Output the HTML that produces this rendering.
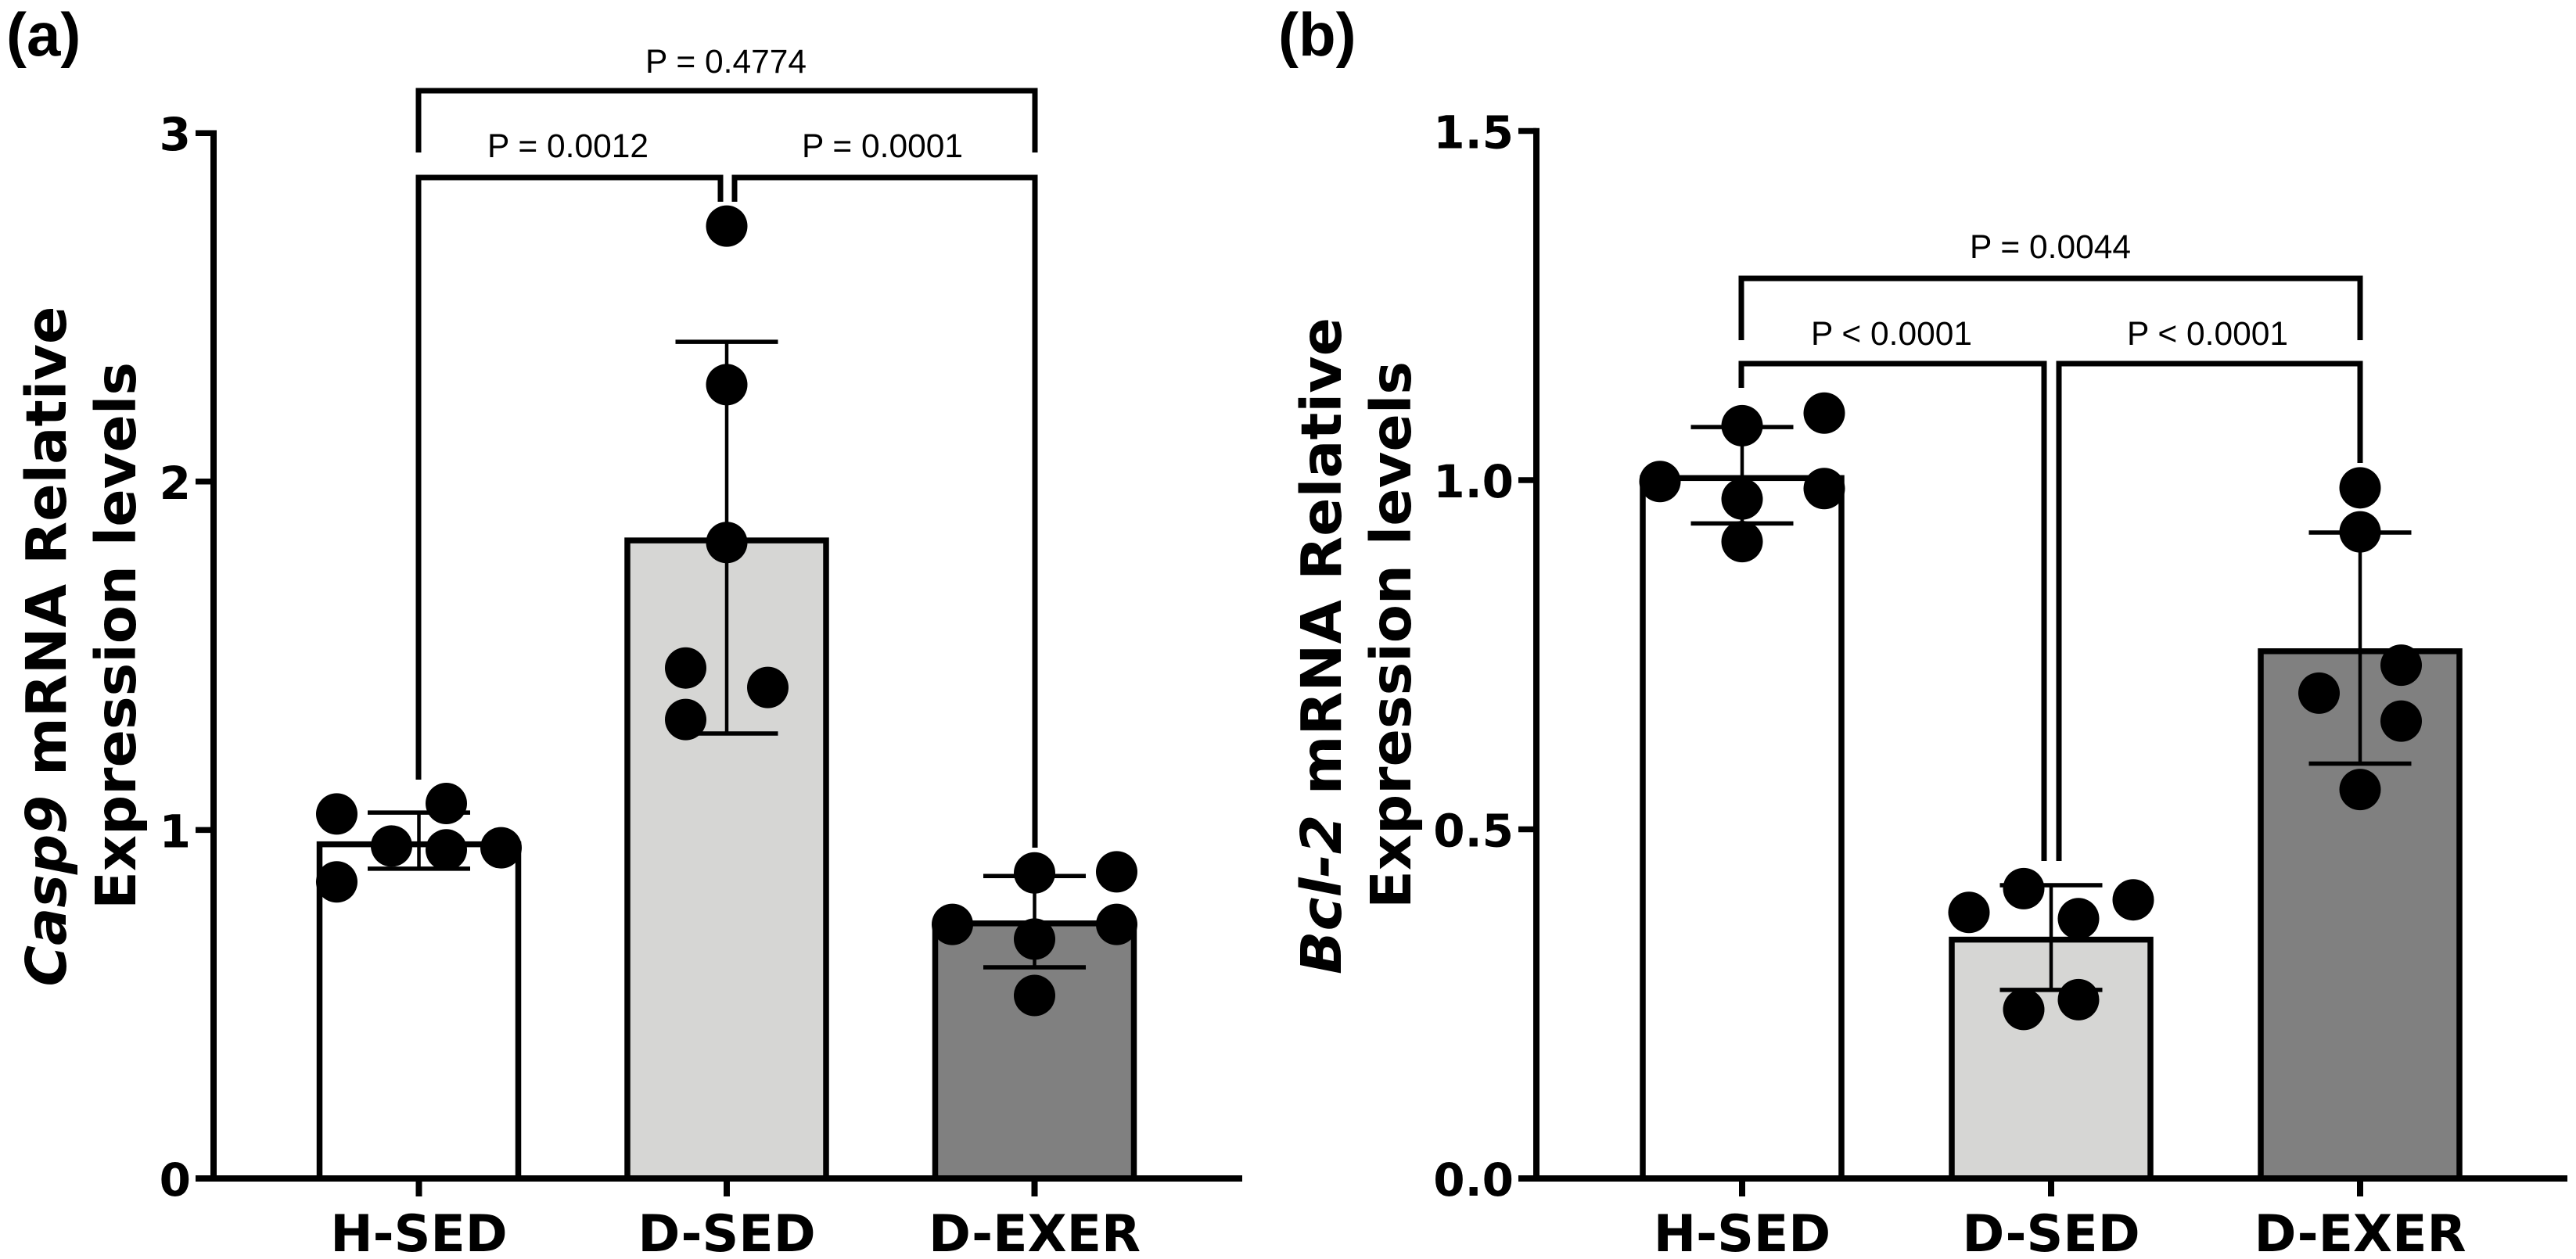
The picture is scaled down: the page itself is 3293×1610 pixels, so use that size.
<!DOCTYPE html>
<html lang="en">
<head>
<meta charset="utf-8">
<title>Casp9 and Bcl-2 mRNA relative expression</title>
<style>
html,body{margin:0;padding:0;background:#fff;width:3293px;height:1610px;overflow:hidden}
svg{display:block}
.tick{font-family:"DejaVu Sans",sans-serif;font-weight:700;fill:#000}
.title{font-family:"DejaVu Sans",sans-serif;font-weight:700;font-size:71.5px;fill:#000;text-anchor:middle}
.p{font-family:"Liberation Sans",sans-serif;font-size:42.5px;fill:#000;text-anchor:middle}
.panel{font-family:"Liberation Sans",sans-serif;font-weight:700;font-size:78px;fill:#000}
.br{fill:none;stroke:#000;stroke-width:7;stroke-linejoin:miter;stroke-linecap:butt}
</style>
</head>
<body>
<svg id="fig" xmlns="http://www.w3.org/2000/svg" width="3293" height="1610" viewBox="0 0 3293 1610">
  <rect x="0" y="0" width="3293" height="1610" fill="#fff"/>
  <g id="panel-a">
    <text class="panel" x="8" y="71">(a)</text>
    <text class="title" transform="translate(84,826.5) rotate(-90)" textLength="870" lengthAdjust="spacingAndGlyphs"><tspan font-style="italic">Casp9</tspan> mRNA Relative</text>
    <text class="title" transform="translate(173,813) rotate(-90)" textLength="700" lengthAdjust="spacingAndGlyphs">Expression levels</text>
  </g>
  <g id="panel-b">
    <text class="panel" x="1634" y="71">(b)</text>
    <text class="title" transform="translate(1714,826) rotate(-90)" textLength="840" lengthAdjust="spacingAndGlyphs"><tspan font-style="italic">Bcl-2</tspan> mRNA Relative</text>
    <text class="title" transform="translate(1803,812) rotate(-90)" textLength="700" lengthAdjust="spacingAndGlyphs">Expression levels</text>
  </g>
  <g id="sig-a">
    <path class="br" d="M535 195V116H1323V195"/>
    <path class="br" d="M535 997V227H921V258"/>
    <path class="br" d="M939 258V227H1323V1084"/>
    <text class="p" x="928" y="93">P = 0.4774</text>
    <text class="p" x="726" y="201">P = 0.0012</text>
    <text class="p" x="1128" y="201">P = 0.0001</text>
  </g>
  <g id="sig-b">
    <path class="br" d="M2226 435V356H3017V435"/>
    <path class="br" d="M2226 496V465H2613V1101"/>
    <path class="br" d="M2632 1101V465H3017V592"/>
    <text class="p" x="2621" y="330">P = 0.0044</text>
    <text class="p" x="2418" y="441">P &lt; 0.0001</text>
    <text class="p" x="2822" y="441">P &lt; 0.0001</text>
  </g>
</svg>
<script>
// Shared data
const categories = ['H-SED', 'D-SED', 'D-EXER'];
const barFills = ['#ffffff', '#d6d6d4', '#808080'];

// Panel (a) Casp9
const ticksA = [0, 1, 2, 3];
const tickLabelsA = ['0', '1', '2', '3'];
const meansA = [0.959, 1.831, 0.732];
const errUpperA = [1.050, 2.401, 0.868];
const errLowerA = [0.889, 1.277, 0.606];
const pointsA = [
  [1.046, 1.076, 0.954, 0.943, 0.949, 0.851],
  [2.733, 2.278, 1.825, 1.465, 1.409, 1.317],
  [0.877, 0.880, 0.729, 0.729, 0.687, 0.525]
];
const swarmSlotsA = [
  [-3, 1, -1, 1, 3, -3],
  [0, 0, 0, -1.5, 1.5, -1.5],
  [0, 3, -3, 3, 0, 0]
];

// Panel (b) Bcl-2
const ticksB = [0, 0.5, 1, 1.5];
const tickLabelsB = ['0.0', '0.5', '1.0', '1.5'];
const meansB = [1.003, 0.342, 0.755];
const errUpperB = [1.076, 0.420, 0.925];
const errLowerB = [0.938, 0.270, 0.594];
const pointsB = [
  [1.078, 1.096, 0.998, 0.973, 0.988, 0.912],
  [0.415, 0.381, 0.399, 0.372, 0.256, 0.242],
  [0.989, 0.926, 0.735, 0.695, 0.655, 0.557]
];
const swarmSlotsB = [
  [0, 3, -3, 0, 3, 0],
  [-1, -3, 3, 1, 1, -1],
  [0, 0, 1.5, -1.5, 1.5, 0]
];

const NS = 'http://www.w3.org/2000/svg';

function mk(tag, attrs, parent) {
  const el = document.createElementNS(NS, tag);
  for (const k in attrs) el.setAttribute(k, attrs[k]);
  parent.appendChild(el);
  return el;
}

function drawPanel(cfg) {
  const root = document.getElementById(cfg.rootId);
  const y = function (v) { return cfg.y0 - (v / cfg.yMax) * (cfg.y0 - cfg.yTop); };
  const x = function (i) { return cfg.x0 + i * cfg.dx; };
  const slotPx = 35;
  const barHalf = 127;
  const capHalf = 65.5;
  const dotR = 26.5;

  // bars
  cfg.means.forEach(function (m, i) {
    const el = mk('rect', {
      x: x(i) - barHalf, y: y(m), width: barHalf * 2, height: cfg.y0 - y(m),
      fill: barFills[i], stroke: '#000', 'stroke-width': 7.5
    }, root);
    
    
  });

  // error bars
  cfg.means.forEach(function (m, i) {
    const stem = mk('line', {
      x1: x(i), x2: x(i), y1: y(cfg.errUpper[i]), y2: y(cfg.errLower[i]),
      stroke: '#000', 'stroke-width': 4.5
    }, root);
    
    
    const caps = mk('path', {
      d: 'M' + (x(i) - capHalf) + ' ' + y(cfg.errUpper[i]) + 'H' + (x(i) + capHalf) +
        'M' + (x(i) - capHalf) + ' ' + y(cfg.errLower[i]) + 'H' + (x(i) + capHalf),
      fill: 'none', stroke: '#000', 'stroke-width': 5.5
    }, root);
    
    
  });

  // points
  cfg.points.forEach(function (series, i) {
    series.forEach(function (v, j) {
      const el = mk('circle', {
        cx: x(i) + cfg.slots[i][j] * slotPx, cy: y(v), r: dotR, fill: '#000'
      }, root);
      
      
    });
  });

  // y axis
  const yAxis = mk('line', {
    x1: cfg.axisX, x2: cfg.axisX, y1: y(cfg.yMax) - 3.75, y2: cfg.y0 + 4,
    stroke: '#000', 'stroke-width': 8
  }, root);
  
  

  // x axis
  const xAxis = mk('line', {
    x1: cfg.axisX - 23, x2: cfg.xEnd, y1: cfg.y0, y2: cfg.y0,
    stroke: '#000', 'stroke-width': 8
  }, root);
  
  

  // y ticks and labels
  cfg.ticks.forEach(function (t, i) {
    const tick = mk('line', {
      x1: cfg.axisX - 23, x2: cfg.axisX, y1: y(t), y2: y(t),
      stroke: '#000', 'stroke-width': 7.5
    }, root);
    
    
    const label = mk('text', {
      x: cfg.axisX - 29, y: y(t) + 22, class: 'tick', 'font-size': 58, 'text-anchor': 'end'
    }, root);
    
    
    label.textContent = cfg.tickLabels[i];
  });

  // x ticks and labels
  categories.forEach(function (c, i) {
    const tick = mk('line', {
      x1: x(i), x2: x(i), y1: cfg.y0, y2: cfg.y0 + 23,
      stroke: '#000', 'stroke-width': 8
    }, root);
    
    
    const label = mk('text', {
      x: x(i), y: 1600, class: 'tick', 'font-size': 65, 'text-anchor': 'middle'
    }, root);
    
    
    label.textContent = c;
  });
}

drawPanel({
  rootId: 'panel-a', y0: 1507, yTop: 170.2, yMax: 3, axisX: 273, xEnd: 1588, x0: 535.5, dx: 393.5,
  ticks: ticksA, tickLabels: tickLabelsA, means: meansA, errUpper: errUpperA, errLower: errLowerA,
  points: pointsA, slots: swarmSlotsA
});
drawPanel({
  rootId: 'panel-b', y0: 1507, yTop: 167.5, yMax: 1.5, axisX: 1964, xEnd: 3282, x0: 2227, dx: 395,
  ticks: ticksB, tickLabels: tickLabelsB, means: meansB, errUpper: errUpperB, errLower: errLowerB,
  points: pointsB, slots: swarmSlotsB
});
</script>
</body>
</html>
